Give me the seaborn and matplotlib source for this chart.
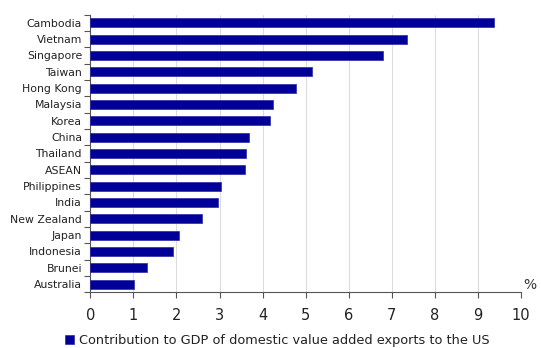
import matplotlib
matplotlib.use("Agg")
import matplotlib.pyplot as plt
import seaborn as sns
import numpy as np
import pandas as pd

countries = ["Cambodia", "Vietnam", "Singapore", "Taiwan", "Hong Kong", "Malaysia",
             "Korea", "China", "Thailand", "ASEAN", "Philippines", "India",
             "New Zealand", "Japan", "Indonesia", "Brunei", "Australia"]
values = [9.37, 7.36, 6.79, 5.14, 4.78, 4.25, 4.17, 3.69, 3.62, 3.60, 3.03, 2.96,
          2.60, 2.05, 1.91, 1.31, 1.02]
x_ticks = [0, 1, 2, 3, 4, 5, 6, 7, 8, 9, 10]
series_label = "Contribution to GDP of domestic value added exports to the US"

bar_color = "#000099"

sns.set_theme(style="white")
plt.rcParams["font.family"] = ["DejaVu Sans"]

df = pd.DataFrame({"country": countries, "value": values})

fig = plt.figure(figsize=(5.41, 3.48), dpi=100)
ax = fig.add_axes([0.167, 0.160, 0.796, 0.798])

sns.barplot(data=df, x="value", y="country", orient="h", color=bar_color,
            saturation=1, width=0.55, edgecolor="#2a2aa8", linewidth=0.5,
            label=series_label, ax=ax, zorder=3)

ax.set_xlim(0, 10)
ax.set_ylim(len(countries) - 0.5, -0.5)
ax.set_xticks(x_ticks)
ax.set_xticklabels([str(t) for t in x_ticks], fontsize=10.5, color="#222222")
ax.xaxis.grid(True, color="#dcdcdc", linewidth=0.8, zorder=0)
ax.yaxis.grid(False)

# category labels, ticks at boundaries between bars
ax.set_yticks(range(len(countries)))
ax.set_yticklabels(countries, fontsize=7.8, color="#222222")
ax.tick_params(axis="y", which="major", length=0, pad=6)
ax.set_yticks(np.arange(-0.5, len(countries)), minor=True)
ax.tick_params(axis="y", which="minor", left=True, length=4, width=0.8, color="#555555")
ax.tick_params(axis="x", which="major", bottom=True, length=4, width=0.8,
               color="#555555", pad=7)

ax.set_xlabel("")
ax.set_ylabel("")
for side in ["top", "right"]:
    ax.spines[side].set_visible(False)
for side in ["left", "bottom"]:
    ax.spines[side].set_color("#555555")
    ax.spines[side].set_linewidth(0.8)

ax.text(1.005, 0.025, "%", transform=ax.transAxes, fontsize=10, color="#333333",
        ha="left", va="center")

leg = ax.legend(loc="center", bbox_to_anchor=(0.434, -0.173), frameon=False,
                fontsize=9.25, handlelength=0.7, handleheight=0.7, handletextpad=0.4,
                borderaxespad=0, borderpad=0)
for t in leg.get_texts():
    t.set_color("#222222")

fig.savefig("out.png", dpi=100)
